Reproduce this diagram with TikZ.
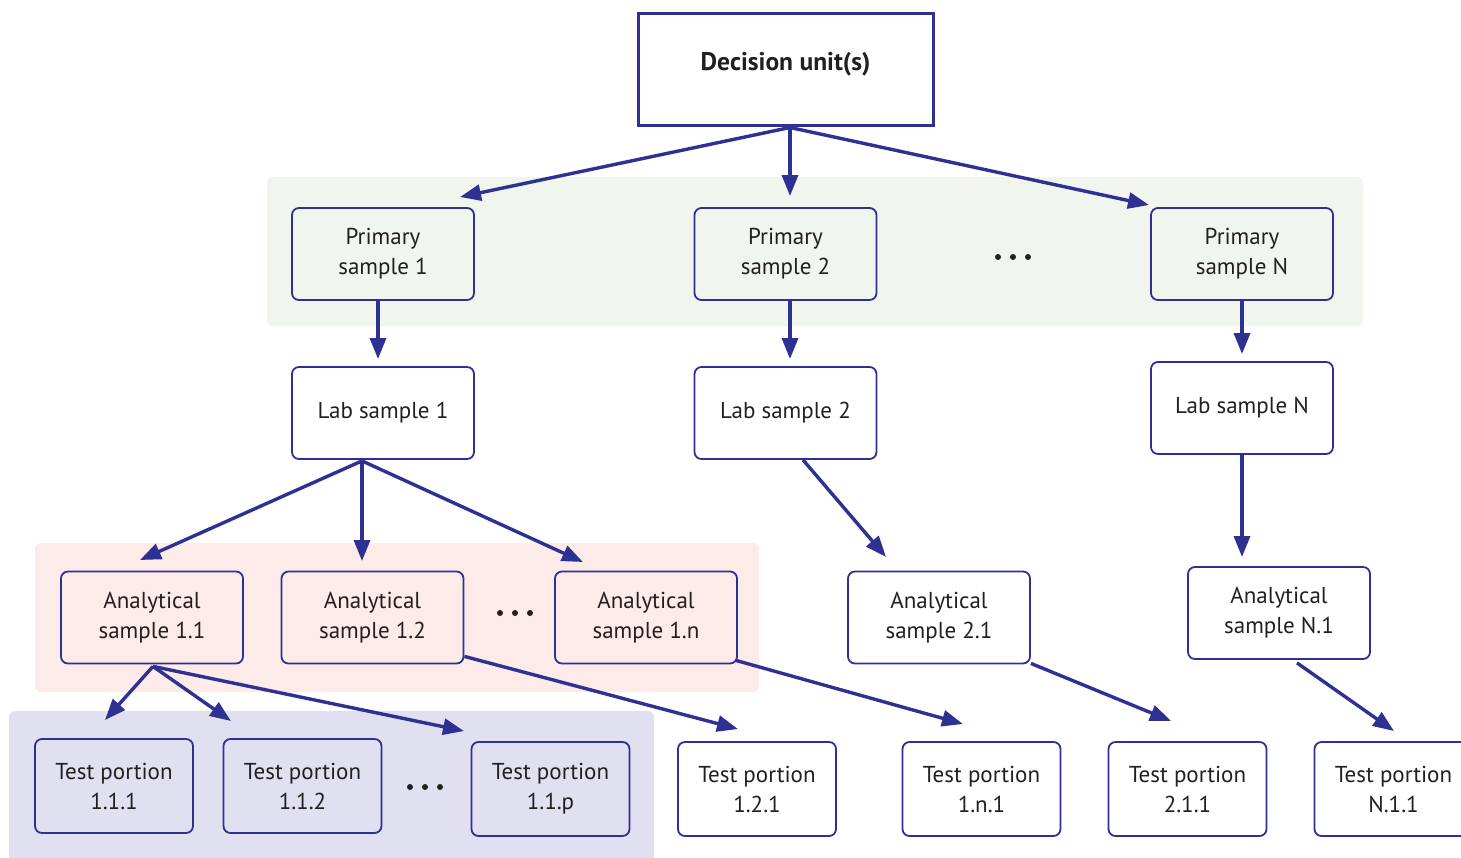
\documentclass[tikz,border=0pt]{standalone}
\usepackage{fontspec}
\setmainfont{PT Sans}
\usetikzlibrary{arrows.meta,calc}
\definecolor{flow}{RGB}{46,49,146}
\definecolor{ink}{RGB}{35,31,32}
\definecolor{bggreen}{RGB}{240,245,238}
\definecolor{bgpink}{RGB}{252,235,232}
\definecolor{bglav}{RGB}{224,224,241}
\tikzset{
  box/.style={draw=flow, line width=1.8pt, rounded corners=7pt, minimum width=182pt,
    minimum height=92pt, align=center, text=ink, font=\fontsize{23}{30}\selectfont,
    inner sep=0pt},
  tbox/.style={box, minimum width=158pt, minimum height=94pt},
  topbox/.style={draw=flow, line width=3pt, minimum width=295pt, minimum height=112pt},
  toplabel/.style={text=ink, font=\fontsize{25.5}{30}\selectfont\bfseries, inner sep=0pt},
  arr/.style={draw=flow, line width=3.4pt, -{Triangle[length=21pt,width=16pt]}},
  band/.style={rounded corners=6pt},
  dotc/.style={fill=ink, circle, inner sep=0pt, minimum size=6pt}
}
\newcommand{\threedots}[2]{%
  \node[dotc] at (#1-15,#2) {};
  \node[dotc] at (#1,#2) {};
  \node[dotc] at (#1+15,#2) {};}
\begin{document}
\begin{tikzpicture}[x=1pt,y=-1pt]
\useasboundingbox (0,0) rectangle (1461,857);
% shaded groups
\fill[bggreen, band] (267,177) rectangle (1363,326);
\fill[bgpink, band] (35,543) rectangle (759,692);
\fill[bglav, band] (9,711) rectangle (654,880);

% top
\node[topbox] (du) at (785.5,69) {};
\node[toplabel] (dut) at (785.5,64) {Decision unit(s)};

% primary samples
\node[box] (p1) at (383,254) {Primary\\sample 1};
\node[box] (p2) at (785.5,254) {Primary\\sample 2};
\node[box] (pN) at (1242,254) {Primary\\sample N};
\threedots{1013}{257}

% lab samples
\node[box] (l1) at (383,413) {Lab sample 1};
\node[box] (l2) at (785.5,413) {Lab sample 2};
\node[box] (lN) at (1242,408) {Lab sample N};

% analytical samples
\node[box] (a11) at (152,617.5) {Analytical\\sample 1.1};
\node[box] (a12) at (372.5,617.5) {Analytical\\sample 1.2};
\node[box] (a1n) at (646,617.5) {Analytical\\sample 1.n};
\threedots{515}{613}
\node[box] (a21) at (939,617.5) {Analytical\\sample 2.1};
\node[box] (aN1) at (1279,613) {Analytical\\sample N.1};

% test portions
\node[tbox] (t111) at (114,786) {Test portion\\1.1.1};
\node[tbox] (t112) at (302.5,786) {Test portion\\1.1.2};
\threedots{425}{787}
\node[tbox] (t11p) at (550.5,789) {Test portion\\1.1.p};
\node[tbox] (t121) at (757,789) {Test portion\\1.2.1};
\node[tbox] (t1n1) at (981.5,789) {Test portion\\1.n.1};
\node[tbox] (t211) at (1187.5,789) {Test portion\\2.1.1};
\node[tbox] (tN11) at (1393.5,789) {Test portion\\N.1.1};

% arrow tips
\coordinate (e1) at (460,197);
\coordinate (e2) at (790,196);
\coordinate (e3) at (1149,205);
\coordinate (e4) at (378,359);
\coordinate (e5) at (790,359);
\coordinate (e6) at (1242,354);
\coordinate (ea) at (140,560);
\coordinate (eb) at (362,561);
\coordinate (ec) at (583,562);
\coordinate (ed) at (886,557);
\coordinate (e7) at (1242,557);
\coordinate (ee) at (105,720);
\coordinate (ef) at (231,721);
\coordinate (eg) at (464,731);
\coordinate (eh) at (738,729);
\coordinate (ei) at (963,724);
\coordinate (ej) at (1171,721);
\coordinate (ek) at (1394,731);

% connectors
\coordinate (dus) at ($(du.south)+(4.5,1)$);
\draw[arr] (dus) -- (e1);
\draw[arr] (dus) -- (e2);
\draw[arr] (dus) -- (e3);
\draw[arr] ($(p1.south)+(-5,0)$) -- (e4);
\draw[arr] ($(p2.south)+(4.5,0)$) -- (e5);
\draw[arr] (pN.south) -- (e6);
\coordinate (l1s) at ($(l1.south)+(-21,1)$);
\draw[arr] (l1s) -- (ea);
\draw[arr] (l1s) -- (eb);
\draw[arr] (l1s) -- (ec);
\draw[arr] ($(l2.south)+(17.5,0)$) -- (ed);
\draw[arr] (lN.south) -- (e7);
\coordinate (a11s) at ($(a11.south)+(1,2)$);
\draw[arr] (a11s) -- (ee);
\draw[arr] (a11s) -- (ef);
\draw[arr] (a11s) -- (eg);
\draw[arr] ($(a12.south east)+(0,-8)$) -- (eh);
\draw[arr] ($(a1n.south east)+(-2,-4)$) -- (ei);
\draw[arr] ($(a21.south east)+(0,-1)$) -- (ej);
\draw[arr] ($(aN1.south)+(18,3)$) -- (ek);
\end{tikzpicture}
\end{document}
